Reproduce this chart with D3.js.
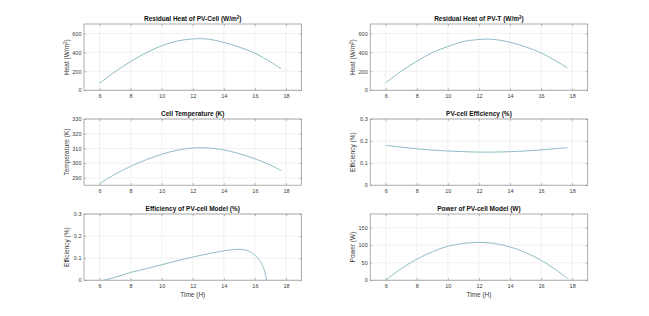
<!DOCTYPE html>
<html>
<head>
<meta charset="utf-8">
<script src="https://cdn.jsdelivr.net/npm/d3@7"></script>
<style>
  body { margin: 0; background: #fff; }
  svg { display: block; font-family: "Liberation Sans", Arial, sans-serif; }
</style>
</head>
<body>
<svg id="main_svg" width="649" height="316"></svg>
<script>
// sampled hours (H)
const hours = [6, 7, 8, 9, 10, 11, 12, 12.5, 13, 14, 15, 16, 17, 17.7];

const heatCell = [74, 195, 303, 395, 470, 520, 542, 545, 540, 505, 455, 392, 300, 226];
const heatPVT = [80, 200, 305, 398, 462, 515, 536, 540, 536, 508, 458, 395, 305, 235];
const cellTemp = [286, 292.5, 297.8, 302.3, 306, 308.8, 310.3, 310.5, 310.3, 309, 306.4, 303, 298.6, 295];
const cellEff = [0.181, 0.172, 0.165, 0.159, 0.155, 0.152, 0.150, 0.150, 0.150, 0.152, 0.155, 0.160, 0.166, 0.170];
const power = [0, 33, 60, 81, 97, 105, 108, 107, 105, 95, 79, 57, 28, 5];

// model efficiency drops to zero before sunset
const modelHours = [6.3, 7, 8, 9, 10, 11, 12, 13, 14, 14.5, 14.9, 15.3, 15.7, 16, 16.3, 16.5, 16.65, 16.75];
const modelEff = [0, 0.013, 0.035, 0.052, 0.07, 0.088, 0.105, 0.12, 0.133, 0.138, 0.14, 0.138, 0.128, 0.113, 0.09, 0.065, 0.035, 0];

const xTicks = [6, 8, 10, 12, 14, 16, 18];

const panels = [
  { col: 0, row: 0, title: ["Residual Heat of PV-Cell (W/m", "2", ")"], ylab: ["Heat (W/m", "2", ")"],
    xs: hours, ys: heatCell, yDomain: [0, 700], yTicks: [0, 200, 400, 600] },
  { col: 1, row: 0, title: ["Residual Heat of PV-T (W/m", "2", ")"], ylab: ["Heat (W/m", "2", ")"],
    xs: hours, ys: heatPVT, yDomain: [0, 700], yTicks: [0, 200, 400, 600] },
  { col: 0, row: 1, title: ["Cell Temperature (K)"], ylab: ["Temperature (K)"],
    xs: hours, ys: cellTemp, yDomain: [285, 330], yTicks: [290, 300, 310, 320, 330] },
  { col: 1, row: 1, title: ["PV-cell Efficiency (%)"], ylab: ["Efficiency (%)"],
    xs: hours, ys: cellEff, yDomain: [0, 0.3], yTicks: [0, 0.1, 0.2, 0.3] },
  { col: 0, row: 2, title: ["Efficiency of PV-cell Model  (%)"], ylab: ["Efficiency (%)"],
    xs: modelHours, ys: modelEff, yDomain: [0, 0.3], yTicks: [0, 0.1, 0.2, 0.3], xlab: "Time (H)", monotone: true },
  { col: 1, row: 2, title: ["Power of PV-cell Model (W)"], ylab: ["Power (W)"],
    xs: hours, ys: power, yDomain: [0, 189], yTicks: [0, 50, 100, 150], xlab: "Time (H)" }
];

const svg = d3.select("#main_svg");
const colLeft = [84, 370.2];
const plotW = 217.5;
const rowTop = [24, 119, 214];
const plotH = 66.2;
const lineColor = "#8fbcc5";
const axisColor = "#8a8a8a";
const textColor = "#3a3a3a";

function richText(sel, parts) {
  parts.forEach((p, i) => {
    const t = sel.append("tspan").text(p);
    if (i === 1) t.attr("baseline-shift", "super").style("font-size", "70%");
  });
}

panels.forEach(p => {
  const x0 = colLeft[p.col];
  const y0 = rowTop[p.row];
  const x = d3.scaleLinear().domain([5, 19]).range([x0, x0 + plotW]);
  const y = d3.scaleLinear().domain(p.yDomain).range([y0 + plotH, y0]);
  const g = svg.append("g");

  // grid
  g.append("g").selectAll("line").data(xTicks).enter().append("line")
    .attr("x1", d => x(d)).attr("x2", d => x(d))
    .attr("y1", y0).attr("y2", y0 + plotH)
    .attr("stroke", "#e8e8e8").attr("stroke-width", 0.6);
  g.append("g").selectAll("line").data(p.yTicks).enter().append("line")
    .attr("x1", x0).attr("x2", x0 + plotW)
    .attr("y1", d => y(d)).attr("y2", d => y(d))
    .attr("stroke", "#e8e8e8").attr("stroke-width", 0.6);

  // axes (ticks inside, mirrored like a boxed plot)
  const styleAxis = a => {
    a.select(".domain").remove();
    a.selectAll(".tick line").attr("stroke", axisColor).attr("stroke-width", 0.6);
    a.selectAll(".tick text").attr("fill", textColor).style("font-size", "5.5px");
  };
  g.append("g").attr("transform", `translate(0,${y0 + plotH})`)
    .call(d3.axisBottom(x).tickValues(xTicks).tickSize(-2).tickPadding(4).tickFormat(d3.format("d")))
    .call(styleAxis);
  g.append("g").attr("transform", `translate(0,${y0})`)
    .call(d3.axisTop(x).tickValues(xTicks).tickSize(-2).tickFormat(""))
    .call(styleAxis);
  g.append("g").attr("transform", `translate(${x0},0)`)
    .call(d3.axisLeft(y).tickValues(p.yTicks).tickSize(-2).tickPadding(2.5).tickFormat(d => String(+d.toFixed(2))))
    .call(styleAxis);
  g.append("g").attr("transform", `translate(${x0 + plotW},0)`)
    .call(d3.axisRight(y).tickValues(p.yTicks).tickSize(-2).tickFormat(""))
    .call(styleAxis);

  g.append("rect")
    .attr("x", x0).attr("y", y0).attr("width", plotW).attr("height", plotH)
    .attr("fill", "none").attr("stroke", axisColor).attr("stroke-width", 0.7);

  // curve
  const pts = p.xs.map((h, i) => [h, p.ys[i]]);
  g.append("path").datum(pts)
    .attr("d", d3.line().x(d => x(d[0])).y(d => y(d[1]))
      .curve(p.monotone ? d3.curveMonotoneX : d3.curveCatmullRom.alpha(0.5)))
    .attr("fill", "none").attr("stroke", lineColor).attr("stroke-width", 1);

  // title
  g.append("text")
    .attr("x", x0 + plotW / 2).attr("y", y0 - 3.5)
    .attr("text-anchor", "middle").attr("fill", "#111")
    .style("font-size", "6.5px").style("font-weight", "bold")
    .call(richText, p.title);

  // y label
  g.append("text")
    .attr("transform", `translate(${x0 - 15},${y0 + plotH / 2}) rotate(-90)`)
    .attr("text-anchor", "middle").attr("fill", textColor)
    .style("font-size", "6.5px")
    .call(richText, p.ylab);

  if (p.xlab) {
    g.append("text")
      .attr("x", x0 + plotW / 2).attr("y", y0 + plotH + 16.5)
      .attr("text-anchor", "middle").attr("fill", textColor)
      .style("font-size", "6.5px")
      .text(p.xlab);
  }
});
</script>
</body>
</html>
